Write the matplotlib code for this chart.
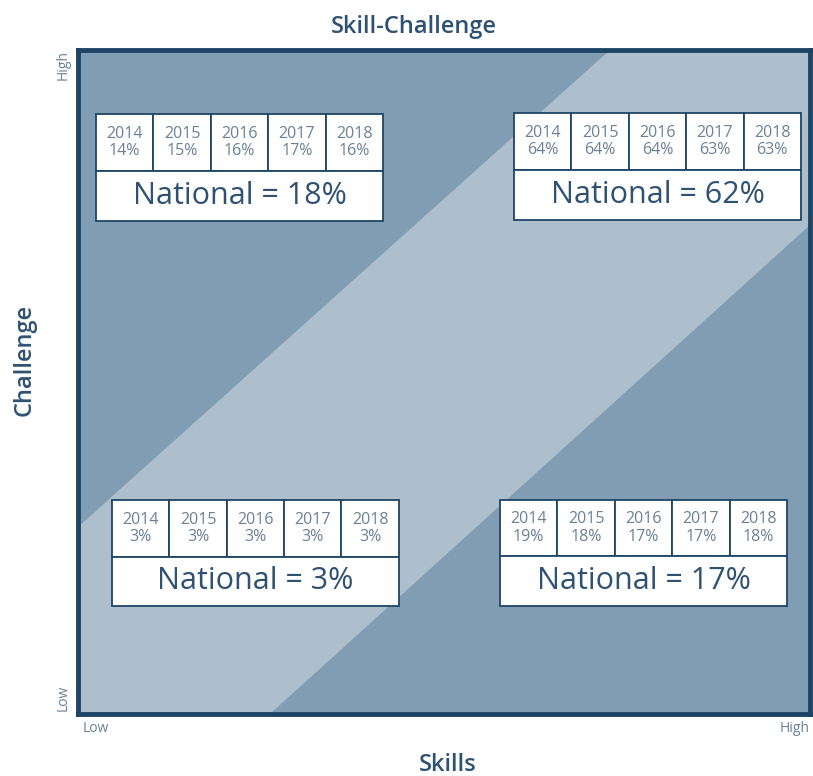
import matplotlib.pyplot as plt
from matplotlib.patches import Polygon, Rectangle

years = ["2014", "2015", "2016", "2017", "2018"]
high_challenge_low_skill = ["14%", "15%", "16%", "17%", "16%"]
high_challenge_high_skill = ["64%", "64%", "64%", "63%", "63%"]
low_challenge_low_skill = ["3%", "3%", "3%", "3%", "3%"]
low_challenge_high_skill = ["19%", "18%", "17%", "17%", "18%"]
national = ["18%", "62%", "3%", "17%"]

dark = "#809db3"
light = "#adbfcc"
navy = "#1f4566"
text_col = "#2f5272"
year_col = "#6b8196"

plt.rcParams['font.family'] = ['Open Sans', 'DejaVu Sans']

fig = plt.figure(figsize=(8.13, 7.76), dpi=100)
ax = fig.add_axes([0.0959, 0.0799, 0.9004, 0.8557])
ax.set_xlim(0, 1)
ax.set_ylim(0, 1)
ax.set_facecolor(dark)

# light diagonal band
band = Polygon([(0, 0), (0.2623, 0), (1, 0.7364), (1, 1), (0.7268, 1), (0, 0.2816)],
               closed=True, facecolor=light, edgecolor="none", zorder=1)
ax.add_patch(band)

for s in ax.spines.values():
    s.set_color(navy)
    s.set_linewidth(3.5)
ax.set_xticks([])
ax.set_yticks([])


def draw_box(x0, ytop, ymid, ybot, values, nat):
    cw = 0.392 / len(years)
    for i, (yr, v) in enumerate(zip(years, values)):
        ax.add_patch(Rectangle((x0 + i * cw, ymid), cw, ytop - ymid, facecolor="white",
                               edgecolor=navy, linewidth=1.3, zorder=3))
        ax.text(x0 + (i + 0.5) * cw, (ytop + ymid) / 2, yr + "\n" + v, ha="center",
                va="center", fontsize=11.5, color=year_col, linespacing=1.15, zorder=4)
    ax.add_patch(Rectangle((x0, ybot), 0.392, ymid - ybot, facecolor="white",
                           edgecolor=navy, linewidth=1.3, zorder=3))
    ax.text(x0 + 0.196, (ymid + ybot) / 2, "National = " + nat, ha="center", va="center",
            fontsize=22, color=text_col, zorder=4)


draw_box(0.0246, 0.9036, 0.8178, 0.7425, high_challenge_low_skill, national[0])
draw_box(0.5956, 0.9051, 0.8193, 0.7440, high_challenge_high_skill, national[1])
draw_box(0.0464, 0.3223, 0.2364, 0.1627, low_challenge_low_skill, national[2])
draw_box(0.5765, 0.3223, 0.2380, 0.1627, low_challenge_high_skill, national[3])

fig.text(414 / 813, 1 - 27 / 776, "Skill-Challenge", ha="center", va="center",
         fontsize=17, color=text_col, fontweight="semibold")
fig.text(448 / 813, 1 - 765 / 776, "Skills", ha="center", va="center",
         fontsize=17, color=text_col, fontweight="semibold")
fig.text(25 / 813, 1 - 360 / 776, "Challenge", ha="center", va="center",
         fontsize=17, color=text_col, rotation=90, fontweight="semibold")
fig.text(63 / 813, 1 - 65 / 776, "High", ha="center", va="center",
         fontsize=10, color=year_col, rotation=90)
fig.text(63 / 813, 1 - 698 / 776, "Low", ha="center", va="center",
         fontsize=10, color=year_col, rotation=90)
fig.text(96 / 813, 1 - 729 / 776, "Low", ha="center", va="center",
         fontsize=10, color=year_col)
fig.text(795 / 813, 1 - 729 / 776, "High", ha="center", va="center",
         fontsize=10, color=year_col)

fig.savefig("out.png", dpi=100)
